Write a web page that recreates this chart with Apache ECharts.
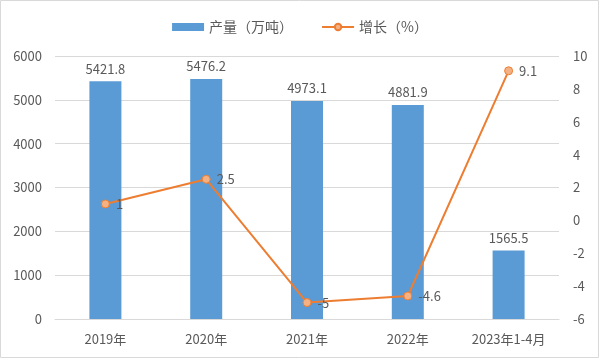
<!DOCTYPE html>
<html><head><meta charset="utf-8">
<script src="https://cdn.jsdelivr.net/npm/echarts@6/dist/echarts.min.js"></script>
<style>html,body{margin:0;padding:0;background:#fff}#c{width:600px;height:360px}</style>
</head><body><div id="c"></div>
<script>
const categories = ['2019年','2020年','2021年','2022年','2023年1-4月'];
const output = [5421.8, 5476.2, 4973.1, 4881.9, 1565.5];
const growth = [1, 2.5, -5, -4.6, 9.1];
const leftTicks = [0, 6000, 1000];
const rightTicks = [-6, 10, 2];
const font = '"Noto Sans CJK SC", "Noto Sans", sans-serif';
const chart = echarts.init(document.getElementById('c'));
chart.setOption({
  animation: false,
  textStyle: {fontFamily: font},
  graphic: [{type:'rect', shape:{x:0.5,y:0.5,width:598,height:357}, style:{fill:'none', stroke:'#d9d9d9', lineWidth:1}, z:-1}],
  legend: {
    top: 15, left: 'center', itemGap: 28, itemWidth: 32, itemHeight: 8,
    textStyle: {color:'#595959', fontSize: 14, fontFamily: font},
    data: [{name:'产量（万吨）', icon:'rect'}, {name:'增长（%）'}]
  },
  grid: {left: 55, right: 41, top: 56, bottom: 41},
  xAxis: {
    type: 'category', data: categories,
    axisLine: {lineStyle:{color:'#d9d9d9'}}, axisTick: {show:false},
    axisLabel: {color:'#595959', fontSize: 13, margin: 14}
  },
  yAxis: [
    {type:'value', min: leftTicks[0], max: leftTicks[1], interval: leftTicks[2],
     axisLabel:{color:'#595959', fontSize:13, margin:13, formatter: v => String(v)},
     splitLine:{lineStyle:{color:'#d9d9d9'}}, axisLine:{show:false}, axisTick:{show:false}},
    {type:'value', min: rightTicks[0], max: rightTicks[1], interval: rightTicks[2],
     axisLabel:{color:'#595959', fontSize:13, margin:14, formatter: v => String(v)},
     splitLine:{show:false}, axisLine:{show:false}, axisTick:{show:false}}
  ],
  series: [
    {name:'产量（万吨）', type:'bar', data: output, barWidth: 32,
     itemStyle:{color:'#5B9BD5'},
     label:{show:true, position:'top', color:'#595959', fontSize:13, distance:6}},
    {name:'增长（%）', type:'line', yAxisIndex:1, data: growth,
     symbol:'circle', symbolSize:8,
     lineStyle:{color:'#ED7D31', width:2},
     itemStyle:{color:'#F4B183', borderColor:'#ED7D31', borderWidth:1},
     label:{show:true, position:'right', color:'#595959', fontSize:13, distance:6}}
  ]
});
</script></body></html>
